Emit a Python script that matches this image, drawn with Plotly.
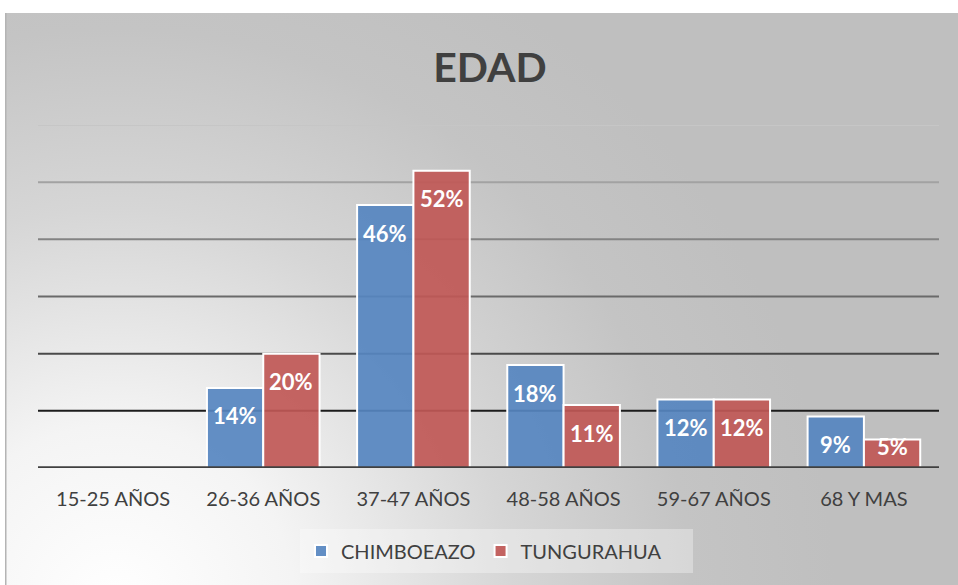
import base64
import plotly.graph_objects as go

categories = ["15-25 AÑOS", "26-36 AÑOS", "37-47 AÑOS", "48-58 AÑOS", "59-67 AÑOS", "68 Y MAS"]
chimboeazo = [0, 14, 46, 18, 12, 9]
tungurahua = [0, 20, 52, 11, 12, 5]
series_names = ["CHIMBOEAZO", "TUNGURAHUA"]
grid_values = [10, 20, 30, 40, 50, 60]
grid_colors = ["#1c1c1c", "#4a4a4a", "#6a6a6a", "#838383", "#a2a2a2", "#c6c6c6"]

W, H = 958, 585
ML, MR, MT, MB = 38, 19, 125, 117
plot_w = W - ML - MR
plot_h = H - MT - MB
px_per_unit = plot_h / 60.0

def px_to_paper_x(px):
    return (px - ML) / plot_w

def py_to_paper_y(py):
    return (H - MB - py) / plot_h

# background radial gradient (chart area rectangle)
bx0, by0 = 5, 13
bw, bh = W - bx0, H - by0
svg = f'''<svg xmlns="http://www.w3.org/2000/svg" width="{bw}" height="{bh}" viewBox="0 0 {bw} {bh}">
<defs><radialGradient id="g" gradientUnits="userSpaceOnUse" cx="110" cy="{bh+20}" r="720">
<stop offset="0" stop-color="#ffffff"/>
<stop offset="0.25" stop-color="#f4f4f4"/>
<stop offset="0.55" stop-color="#d6d6d6"/>
<stop offset="0.8" stop-color="#c4c4c4"/>
<stop offset="1" stop-color="#bfbfbf"/>
</radialGradient></defs>
<rect x="0" y="0" width="{bw}" height="{bh}" fill="url(#g)"/>
<line x1="0.75" y1="0" x2="0.75" y2="{bh}" stroke="#b4b4b4" stroke-width="1.5"/>
</svg>'''
uri = "data:image/svg+xml;base64," + base64.b64encode(svg.encode()).decode()

FONT = "Lato"
blue = "rgba(86,134,192,0.92)"
red = "rgba(192,88,86,0.92)"

fig = go.Figure()
fig.add_trace(go.Bar(x=categories, y=chimboeazo, name=series_names[0],
                     marker=dict(color=blue, line=dict(color="white", width=2))))
fig.add_trace(go.Bar(x=categories, y=tungurahua, name=series_names[1],
                     marker=dict(color=red, line=dict(color="white", width=2))))

bar_half = 0.1875 * plot_w / len(categories)
annotations = []
for vals, sign in ((chimboeazo, -1), (tungurahua, 1)):
    for c, v in zip(categories, vals):
        if v <= 0:
            continue
        h = v * px_per_unit
        off = min(28, h - 22)
        annotations.append(dict(x=c, y=v, xref="x", yref="y", text=f"{v}%", showarrow=False,
                                xshift=sign * bar_half, yshift=-off,
                                font=dict(family=FONT, size=22, color="white", weight="bold")))

shapes = []
for gv, gc in zip(grid_values, grid_colors):
    shapes.append(dict(type="line", xref="paper", yref="y", x0=0, x1=1, y0=gv, y1=gv,
                       line=dict(color=gc, width=2), layer="below"))
shapes.append(dict(type="line", xref="paper", yref="y", x0=0, x1=1, y0=0, y1=0,
                   line=dict(color="#404040", width=3.5), layer="above"))
# legend backdrop box
shapes.append(dict(type="rect", xref="paper", yref="paper",
                   x0=px_to_paper_x(300), x1=px_to_paper_x(693),
                   y0=py_to_paper_y(573), y1=py_to_paper_y(529),
                   fillcolor="rgba(255,255,255,0.33)", line=dict(width=0), layer="below"))

fig.update_layout(
    width=W, height=H,
    margin=dict(l=ML, r=MR, t=MT, b=MB),
    paper_bgcolor="white", plot_bgcolor="rgba(0,0,0,0)",
    images=[dict(source=uri, xref="paper", yref="paper",
                 x=px_to_paper_x(bx0), y=py_to_paper_y(by0),
                 sizex=bw / plot_w, sizey=bh / plot_h,
                 xanchor="left", yanchor="top", sizing="stretch", layer="below")],
    title=dict(text="<b>EDAD</b>", x=490 / W, xanchor="center", y=1 - 68 / H, yanchor="middle",
               font=dict(family=FONT, size=41, color="#404040")),
    barmode="group", bargap=0.25, bargroupgap=0,
    xaxis=dict(showgrid=False, showline=False, zeroline=False, ticks="outside", ticklen=13,
               tickcolor="rgba(0,0,0,0)", tickfont=dict(family=FONT, size=20, color="#404040")),
    yaxis=dict(range=[0, 60], showgrid=False, zeroline=False, showticklabels=False, showline=False),
    legend=dict(orientation="h", x=px_to_paper_x(484), xanchor="center",
                y=py_to_paper_y(551), yanchor="middle", tracegroupgap=0,
                bgcolor="rgba(0,0,0,0)", font=dict(family=FONT, size=20, color="#404040")),
    shapes=shapes, annotations=annotations,
    showlegend=True,
)
fig.write_html("out.html", config={"displayModeBar": False},
               post_script=["document.body.style.margin='0';document.body.style.overflow='hidden';"])
